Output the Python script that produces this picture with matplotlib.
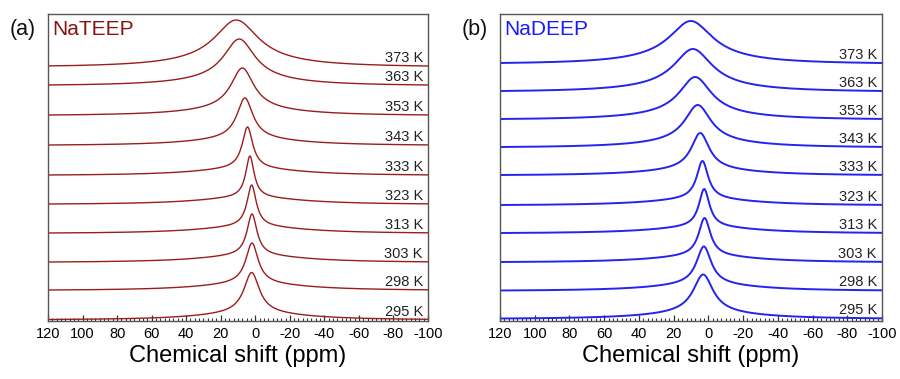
import numpy as np
import matplotlib.pyplot as plt
from matplotlib.ticker import MultipleLocator

plt.rcParams['font.family'] = ['Liberation Sans', 'DejaVu Sans']
plt.rcParams['axes.unicode_minus'] = False

temps = ['373 K', '363 K', '353 K', '343 K', '333 K',
         '323 K', '313 K', '303 K', '298 K', '295 K']

# NaTEEP: peak centre (ppm), line width (ppm), peak height, stack offset
tee_center = [11.0, 9.3, 7.5, 6.0, 4.5, 3.1, 2.1, 1.9, 1.9, 2.1]
tee_fwhm = [30.0, 21.5, 16.0, 11.2, 7.4, 5.9, 6.5, 7.0, 8.7, 10.8]
tee_height = [46, 46, 47, 47, 48, 48, 48, 48, 47, 47]
tee_offset = [255, 236, 206, 176, 146, 117, 88, 59, 31, 1.5]

# NaDEEP
dee_center = [10.1, 8.9, 7.6, 6.1, 4.7, 3.4, 2.4, 2.2, 2.6, 3.0]
dee_fwhm = [29.5, 26.0, 22.0, 18.0, 12.5, 8.0, 7.4, 8.2, 10.3, 13.8]
dee_height = [42, 42, 42, 42, 42, 44, 44, 44, 44, 44]
dee_offset = [258, 230, 202, 174, 146, 116, 88, 59, 30.5, 2.5]

# broad underlying component shared by all spectra
broad_frac = 0.15
broad_fwhm = 70.0

ppm = np.linspace(120, -100, 2201)


def lorentz(x, center, fwhm):
    return (fwhm / 2) ** 2 / ((x - center) ** 2 + (fwhm / 2) ** 2)


def line_shape(x, center, fwhm):
    s = (1 - broad_frac) * lorentz(x, center, fwhm) + broad_frac * lorentz(x, center, broad_fwhm)
    # baseline correction so the ends sit at zero
    return (s - s.min()) / (s.max() - s.min())


def draw_panel(ax, centers, widths, heights, offsets, color, lw, name, name_color, tag):

    for c, w, h, off, t in zip(centers, widths, heights, offsets, temps):
        ax.plot(ppm, off + h * line_shape(ppm, c, w), color=color, lw=lw)
        ax.text(-97, off + 8, t, ha='right', va='center', fontsize=10.5, color='#222222')

    ax.set_xlim(120, -100)
    ax.set_ylim(0, 307)
    ax.set_yticks([])
    ax.xaxis.set_major_locator(MultipleLocator(20))
    ax.xaxis.set_minor_locator(MultipleLocator(2.5))
    ax.tick_params(axis='x', which='major', direction='in', length=4,
                   width=0.9, labelsize=10.5, pad=4, color='#333333')
    ax.tick_params(axis='x', which='minor', direction='in', length=2.2,
                   width=0.8, color='#333333')

    for sp in ax.spines.values():
        sp.set_color('#555555')
        sp.set_linewidth(1.0)

    ax.set_xlabel('Chemical shift (ppm)', fontsize=17, labelpad=3)

    ax.text(0.012, 0.95, name, transform=ax.transAxes, ha='left', va='center',
            fontsize=15, color=name_color)
    ax.text(-0.1, 0.95, tag, transform=ax.transAxes, ha='left', va='center',
            fontsize=15.5, color='#111111')


fig = plt.figure(figsize=(9, 3.79), dpi=100)

ax1 = fig.add_axes([48 / 900, 58 / 379, 380 / 900, 307 / 379])
ax2 = fig.add_axes([500 / 900, 58 / 379, 382 / 900, 307 / 379])

draw_panel(ax1, tee_center, tee_fwhm, tee_height, tee_offset,
           '#9b1c1c', 1.0, 'NaTEEP', '#8c1010', '(a)')
draw_panel(ax2, dee_center, dee_fwhm, dee_height, dee_offset,
           '#2424ee', 1.4, 'NaDEEP', '#1a1aff', '(b)')

fig.savefig('out.png', dpi=100)
plt.close(fig)
